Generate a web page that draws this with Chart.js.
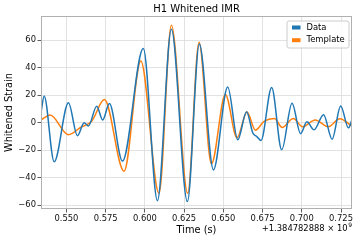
<!DOCTYPE html>
<html>
<head>
<meta charset="utf-8">
<script src="https://cdn.jsdelivr.net/npm/chart.js@4.4.1/dist/chart.umd.min.js"></script>
<style>
html,body{margin:0;padding:0;background:#fff;}
#wrap{width:357px;height:241px;}
</style>
</head>
<body>
<div id="wrap"><canvas id="c" width="357" height="241"></canvas></div>
<script>
// ---- data ----
const chartTitle = 'H1 Whitened IMR';
const seriesNames = ['Data', 'Template'];
const dataTime = [0.5339, 0.5358, 0.5422, 0.5513, 0.5570, 0.5613, 0.5640, 0.5693, 0.5731, 0.5774, 0.5857, 0.5990, 0.6080, 0.6169, 0.6271, 0.6347, 0.6437, 0.6528, 0.6592, 0.6648, 0.6688, 0.6712, 0.6740, 0.6808, 0.6872, 0.6938, 0.6992, 0.7033, 0.7078, 0.7139, 0.7193, 0.7248, 0.7297, 0.7320];
const dataStrain = [8, 19.5, -28.5, 14.5, -9.5, 0, -2.5, 12, 2, 13.9, -28, 54, -56.8, 68, -57.5, 57.3, -34.4, 26, -12.5, 8, -7.5, -10, -13, 25.6, -19.8, 14.2, -8, 0.6, -5.2, 5.8, -12, 12.2, -3.8, 2];
const tmplTime = [0.5339, 0.5396, 0.5513, 0.5590, 0.5661, 0.5742, 0.5867, 0.5974, 0.6090, 0.6169, 0.6273, 0.6345, 0.6424, 0.6513, 0.6587, 0.6651, 0.6704, 0.6760, 0.6825, 0.6875, 0.6946, 0.7005, 0.7085, 0.7169, 0.7242, 0.7320];
const tmplStrain = [2, 5.5, -8.8, -3.5, 1, 16.8, -35.4, 44.9, -51.5, 71, -51.5, 58.5, -30, 20.5, -11, 7.8, -5.5, 1, 3, -3.5, 3, -3, 2, -3, 2.8, -2.6];
const xTickStep = 0.025;
const yTickStep = 20;
const xLimits = [0.5338, 0.7320];
const yLimits = [-62.9, 77.7];
const xLabel = 'Time (s)';
const yLabel = 'Whitened Strain';
const offsetText = '+1.384782888 \u00d7 10';
const offsetExp = '9';

const FONT = "'DejaVu Sans', sans-serif";
const colors = ['#1f77b4', '#ff7f0e'];

function pts(xs, ys){ return xs.map((x,i)=>({x:x, y:ys[i]})); }

const framePlugin = {
  id: 'frameLegendOffset',
  afterDatasetsDraw(chart){
    const ctx = chart.ctx, a = chart.chartArea;
    ctx.save();
    // frame
    ctx.strokeStyle = '#b0b0b0';
    ctx.lineWidth = 1;
    ctx.strokeRect(Math.round(a.left)+0.5, Math.round(a.top)+0.5, Math.round(a.right-a.left)-1, Math.round(a.bottom-a.top)-1);
    // title, centred over the plot area
    ctx.font = '10px ' + FONT;
    ctx.fillStyle = '#000';
    ctx.textAlign = 'center';
    ctx.textBaseline = 'middle';
    ctx.fillText(chartTitle, (a.left + a.right) / 2, 9.5);
    // legend
    const bx = 287, by = 21, bw = 62, bh = 27, r = 2;
    ctx.beginPath();
    ctx.moveTo(bx+r, by); ctx.lineTo(bx+bw-r, by); ctx.quadraticCurveTo(bx+bw, by, bx+bw, by+r);
    ctx.lineTo(bx+bw, by+bh-r); ctx.quadraticCurveTo(bx+bw, by+bh, bx+bw-r, by+bh);
    ctx.lineTo(bx+r, by+bh); ctx.quadraticCurveTo(bx, by+bh, bx, by+bh-r);
    ctx.lineTo(bx, by+r); ctx.quadraticCurveTo(bx, by, bx+r, by);
    ctx.closePath();
    ctx.fillStyle = 'rgba(255,255,255,0.85)';
    ctx.fill();
    ctx.strokeStyle = '#cccccc';
    ctx.lineWidth = 1;
    ctx.stroke();
    ctx.font = '8.4px ' + FONT;
    ctx.textBaseline = 'middle';
    ctx.textAlign = 'left';
    chart.data.datasets.forEach((ds, i) => {
      const cy = 27.5 + i * 12.7;
      ctx.fillStyle = ds.borderColor;
      ctx.fillRect(292, cy - 2, 8.5, 4);
      ctx.fillStyle = '#000';
      ctx.fillText(ds.label, 306.5, cy);
    });
    // offset text
    ctx.font = '6px ' + FONT;
    const ew = ctx.measureText(offsetExp).width;
    ctx.textAlign = 'right';
    ctx.fillStyle = '#000';
    ctx.fillText(offsetExp, a.right, 225);
    ctx.font = '8.4px ' + FONT;
    ctx.fillText(offsetText, a.right - ew - 0.5, 228.5);
    ctx.restore();
  }
};

new Chart(document.getElementById('c'), {
  type: 'line',
  data: {
    datasets: [
      { label: seriesNames[0], data: pts(dataTime, dataStrain), borderColor: colors[0], backgroundColor: colors[0], borderWidth: 1.5, pointRadius: 0, cubicInterpolationMode: 'monotone', fill: false },
      { label: seriesNames[1], data: pts(tmplTime, tmplStrain), borderColor: colors[1], backgroundColor: colors[1], borderWidth: 1.5, pointRadius: 0, cubicInterpolationMode: 'monotone', fill: false }
    ]
  },
  options: {
    responsive: false,
    animation: false,
    devicePixelRatio: 1,
    layout: { padding: { left: 0, right: 5, top: 16, bottom: 0 } },
    plugins: {
      legend: { display: false },
      tooltip: { enabled: false },
      title: { display: false }
    },
    scales: {
      x: {
        type: 'linear', min: xLimits[0], max: xLimits[1],
        afterFit(s){ s.height = 32; },
        grid: { color: '#dadada', lineWidth: 0.8, tickLength: 3.5, tickColor: '#333', tickWidth: 0.8 },
        border: { display: false },
        ticks: { stepSize: xTickStep, includeBounds: false, autoSkip: false, maxRotation: 0, padding: 1.5, color: '#111', font: { family: FONT, size: 8.4 }, callback: v => v.toFixed(3) },
        title: { display: true, text: xLabel, color: '#000', font: { family: FONT, size: 9.8, lineHeight: 1.2 }, padding: { top: 0, bottom: 4.5 } }
      },
      y: {
        type: 'linear', min: yLimits[0], max: yLimits[1],
        afterFit(s){ s.width = 41; },
        grid: { color: '#dadada', lineWidth: 0.8, tickLength: 3.5, tickColor: '#333', tickWidth: 0.8 },
        border: { display: false },
        ticks: { stepSize: yTickStep, includeBounds: false, autoSkip: false, padding: 1.5, color: '#111', font: { family: FONT, size: 8.4 }, callback: v => (v < 0 ? '\u2212' + Math.abs(v) : String(v)) },
        title: { display: true, text: yLabel, color: '#000', font: { family: FONT, size: 9.8, lineHeight: 1.2 }, padding: { top: 3.5, bottom: 0 } }
      }
    }
  },
  plugins: [framePlugin]
});
</script>
</body>
</html>
